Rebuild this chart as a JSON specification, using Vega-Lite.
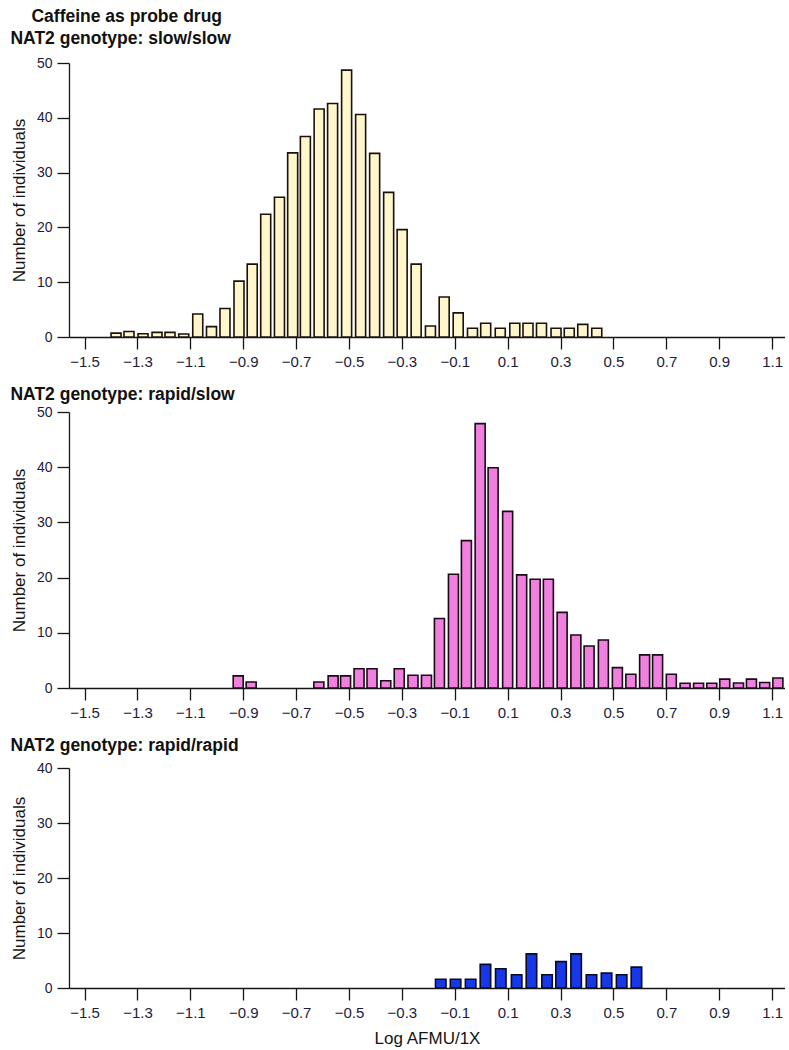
{
  "$schema": "https://vega.github.io/schema/vega-lite/v6.json",
  "background": "white",
  "padding": {"left": 10, "right": 0, "top": 8, "bottom": 2},
  "title": {"text": "Caffeine as probe drug", "anchor": "start", "frame": "bounds", "dx": 21, "fontSize": 17.5, "fontWeight": "bold", "font": "Liberation Sans", "color": "#111111", "offset": 4},
  "spacing": 16,
  "datasets": {
    "slow_slow": [
      {"log_afmu": -1.381, "count": 0.7}, {"log_afmu": -1.332, "count": 1.0}, {"log_afmu": -1.279, "count": 0.6},
      {"log_afmu": -1.226, "count": 0.85}, {"log_afmu": -1.177, "count": 0.85}, {"log_afmu": -1.125, "count": 0.55},
      {"log_afmu": -1.072, "count": 4.2}, {"log_afmu": -1.020, "count": 1.9}, {"log_afmu": -0.969, "count": 5.2},
      {"log_afmu": -0.916, "count": 10.2}, {"log_afmu": -0.866, "count": 13.3}, {"log_afmu": -0.815, "count": 22.4},
      {"log_afmu": -0.763, "count": 25.5}, {"log_afmu": -0.713, "count": 33.6}, {"log_afmu": -0.665, "count": 36.6},
      {"log_afmu": -0.613, "count": 41.6}, {"log_afmu": -0.562, "count": 42.6}, {"log_afmu": -0.509, "count": 48.7},
      {"log_afmu": -0.456, "count": 40.6}, {"log_afmu": -0.403, "count": 33.5}, {"log_afmu": -0.350, "count": 26.4},
      {"log_afmu": -0.299, "count": 19.6}, {"log_afmu": -0.246, "count": 13.3}, {"log_afmu": -0.192, "count": 2.0},
      {"log_afmu": -0.140, "count": 7.3}, {"log_afmu": -0.087, "count": 4.4}, {"log_afmu": -0.033, "count": 1.6},
      {"log_afmu": 0.017, "count": 2.5}, {"log_afmu": 0.072, "count": 1.6}, {"log_afmu": 0.127, "count": 2.5},
      {"log_afmu": 0.177, "count": 2.5}, {"log_afmu": 0.228, "count": 2.5}, {"log_afmu": 0.283, "count": 1.6},
      {"log_afmu": 0.333, "count": 1.6}, {"log_afmu": 0.384, "count": 2.3}, {"log_afmu": 0.437, "count": 1.6}
    ],
    "rapid_slow": [
      {"log_afmu": -0.919, "count": 2.2}, {"log_afmu": -0.870, "count": 1.1}, {"log_afmu": -0.614, "count": 1.1},
      {"log_afmu": -0.560, "count": 2.2}, {"log_afmu": -0.513, "count": 2.2}, {"log_afmu": -0.462, "count": 3.5},
      {"log_afmu": -0.413, "count": 3.5}, {"log_afmu": -0.361, "count": 1.3}, {"log_afmu": -0.310, "count": 3.5},
      {"log_afmu": -0.258, "count": 2.3}, {"log_afmu": -0.207, "count": 2.3}, {"log_afmu": -0.158, "count": 12.6},
      {"log_afmu": -0.105, "count": 20.6}, {"log_afmu": -0.056, "count": 26.7}, {"log_afmu": -0.004, "count": 47.9},
      {"log_afmu": 0.045, "count": 39.9}, {"log_afmu": 0.100, "count": 32.0}, {"log_afmu": 0.153, "count": 20.5},
      {"log_afmu": 0.204, "count": 19.7}, {"log_afmu": 0.254, "count": 19.7}, {"log_afmu": 0.306, "count": 13.7},
      {"log_afmu": 0.358, "count": 9.6}, {"log_afmu": 0.408, "count": 7.6}, {"log_afmu": 0.462, "count": 8.7},
      {"log_afmu": 0.515, "count": 3.7}, {"log_afmu": 0.566, "count": 2.5}, {"log_afmu": 0.618, "count": 6.0},
      {"log_afmu": 0.667, "count": 6.0}, {"log_afmu": 0.719, "count": 2.5}, {"log_afmu": 0.771, "count": 0.85},
      {"log_afmu": 0.822, "count": 0.85}, {"log_afmu": 0.872, "count": 0.85}, {"log_afmu": 0.921, "count": 1.6},
      {"log_afmu": 0.973, "count": 0.9}, {"log_afmu": 1.022, "count": 1.6}, {"log_afmu": 1.072, "count": 1.0},
      {"log_afmu": 1.122, "count": 1.8}
    ],
    "rapid_rapid": [
      {"log_afmu": -0.153, "count": 1.6}, {"log_afmu": -0.097, "count": 1.6}, {"log_afmu": -0.040, "count": 1.6},
      {"log_afmu": 0.016, "count": 4.3}, {"log_afmu": 0.074, "count": 3.5}, {"log_afmu": 0.134, "count": 2.4},
      {"log_afmu": 0.190, "count": 6.2}, {"log_afmu": 0.249, "count": 2.4}, {"log_afmu": 0.302, "count": 4.8},
      {"log_afmu": 0.359, "count": 6.2}, {"log_afmu": 0.417, "count": 2.4}, {"log_afmu": 0.474, "count": 2.7},
      {"log_afmu": 0.531, "count": 2.4}, {"log_afmu": 0.587, "count": 3.8}
    ]
  },
  "vconcat": [
    {
      "width": 716, "height": 274,
      "title": {"text": "NAT2 genotype: slow/slow", "anchor": "start", "frame": "bounds", "fontSize": 17.5, "fontWeight": "bold", "offset": 9},
      "data": {"name": "slow_slow"},
      "mark": {"type": "bar", "width": 10, "fill": "#fff6cc", "stroke": "#1a1208", "strokeWidth": 1.6, "clip": true},
      "encoding": {
        "x": {"field": "log_afmu", "type": "quantitative", "scale": {"domain": [-1.54, 1.13], "nice": false, "zero": false},
              "axis": {"values": [-1.5, -1.3, -1.1, -0.9, -0.7, -0.5, -0.3, -0.1, 0.1, 0.3, 0.5, 0.7, 0.9, 1.1], "format": ".1f", "title": null}},
        "y": {"field": "count", "type": "quantitative", "scale": {"domain": [0, 50], "nice": false},
              "axis": {"values": [0, 10, 20, 30, 40, 50], "title": "Number of individuals"}}
      }
    },
    {
      "width": 716, "height": 276,
      "title": {"text": "NAT2 genotype: rapid/slow", "anchor": "start", "frame": "bounds", "fontSize": 17.5, "fontWeight": "bold", "offset": 2},
      "data": {"name": "rapid_slow"},
      "mark": {"type": "bar", "width": 10, "fill": "#ef80de", "stroke": "#1a0a18", "strokeWidth": 1.6, "clip": true},
      "encoding": {
        "x": {"field": "log_afmu", "type": "quantitative", "scale": {"domain": [-1.54, 1.13], "nice": false, "zero": false},
              "axis": {"values": [-1.5, -1.3, -1.1, -0.9, -0.7, -0.5, -0.3, -0.1, 0.1, 0.3, 0.5, 0.7, 0.9, 1.1], "format": ".1f", "title": null}},
        "y": {"field": "count", "type": "quantitative", "scale": {"domain": [0, 50], "nice": false},
              "axis": {"values": [0, 10, 20, 30, 40, 50], "title": "Number of individuals"}}
      }
    },
    {
      "width": 716, "height": 220,
      "title": {"text": "NAT2 genotype: rapid/rapid", "anchor": "start", "frame": "bounds", "fontSize": 17.5, "fontWeight": "bold", "offset": 7},
      "data": {"name": "rapid_rapid"},
      "mark": {"type": "bar", "width": 10.5, "fill": "#1638e6", "stroke": "#0a0a2a", "strokeWidth": 1.6, "clip": true},
      "encoding": {
        "x": {"field": "log_afmu", "type": "quantitative", "scale": {"domain": [-1.54, 1.13], "nice": false, "zero": false},
              "axis": {"values": [-1.5, -1.3, -1.1, -0.9, -0.7, -0.5, -0.3, -0.1, 0.1, 0.3, 0.5, 0.7, 0.9, 1.1], "format": ".1f", "title": "Log AFMU/1X", "titlePadding": 10}},
        "y": {"field": "count", "type": "quantitative", "scale": {"domain": [0, 40], "nice": false},
              "axis": {"values": [0, 10, 20, 30, 40], "title": "Number of individuals"}}
      }
    }
  ],
  "config": {
    "font": "Liberation Sans",
    "view": {"stroke": null},
    "title": {"color": "#111111", "font": "Liberation Sans"},
    "axis": {
      "grid": false,
      "domainColor": "#151515",
      "domainWidth": 1.3,
      "tickColor": "#151515",
      "tickWidth": 1.3,
      "labelColor": "#1c1c3a",
      "labelFont": "Liberation Sans",
      "titleFont": "Liberation Sans",
      "titleColor": "#151515",
      "titleFontWeight": "normal",
      "titleFontSize": 17
    },
    "axisX": {"tickSize": 12, "labelPadding": 5, "labelFontSize": 15, "labelOverlap": false},
    "axisY": {"tickSize": 12, "labelPadding": 5, "labelFontSize": 14, "titlePadding": 8}
  }
}
